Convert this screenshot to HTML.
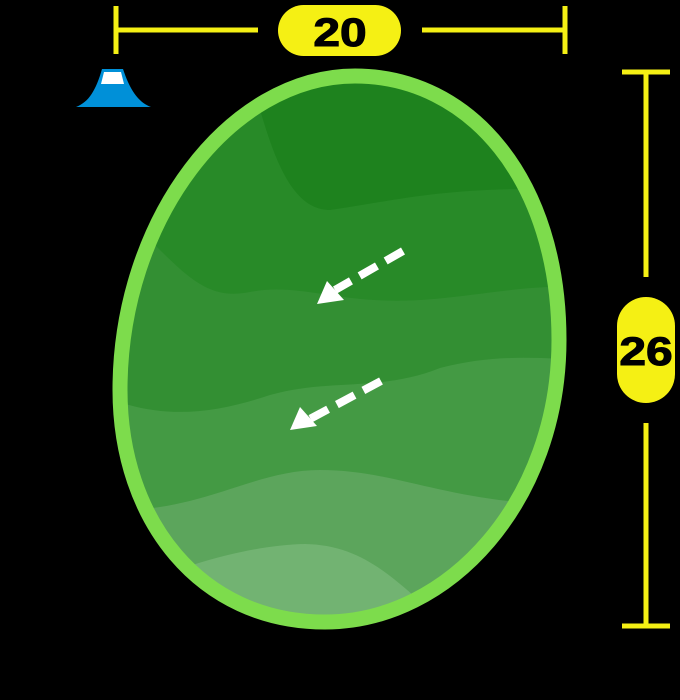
<!DOCTYPE html>
<html><head><style>html,body{margin:0;padding:0;background:#000;}svg{display:block}</style></head>
<body>
<svg width="680" height="700" viewBox="0 0 680 700" xmlns="http://www.w3.org/2000/svg">
<rect width="680" height="700" fill="#000"/>
<defs>
<clipPath id="c"><path d="M355,76 C470,76 559,180 559,340 C559,500 450,622 325,622 C200,622 120,520 120,390 C120,220 230,76 355,76 Z"/></clipPath>
</defs>
<g clip-path="url(#c)">
<rect x="100" y="60" width="480" height="580" fill="#1e821e"/>
<path d="M100,60 L245,60 C265,120 280,210 330,210 C400,200 450,185 580,190 L580,640 L100,640 Z" fill="#288a28"/>
<path d="M100,220 L150,240 C190,280 210,300 250,292 C300,282 340,305 420,300 C480,296 520,285 580,287 L580,640 L100,640 Z" fill="#338f33"/>
<path d="M100,395 C160,420 210,415 270,395 C330,378 380,392 440,368 C490,355 530,357 580,360 L580,640 L100,640 Z" fill="#449a44"/>
<path d="M100,510 C200,515 250,470 320,470 C400,470 450,505 580,505 L580,640 L100,640 Z" fill="#5ca55c"/>
<path d="M100,600 C180,565 250,545 305,544 C360,545 390,575 430,610 L430,640 L100,640 Z" fill="#72b372"/>
</g>
<path d="M355,76 C470,76 559,180 559,340 C559,500 450,622 325,622 C200,622 120,520 120,390 C120,220 230,76 355,76 Z" fill="none" stroke="#7ddc4c" stroke-width="15"/>
<g stroke="#fff" stroke-width="8" fill="none" stroke-dasharray="20,10">
<line x1="403" y1="251" x2="335" y2="290"/>
<line x1="381" y1="381" x2="308" y2="420"/>
</g>
<polygon points="317,304 327,281 344,300" fill="#fff"/>
<polygon points="290,430 300,407 317,426" fill="#fff"/>
<g stroke="#f5f014" stroke-width="5">
<line x1="116" y1="30" x2="258" y2="30"/>
<line x1="422" y1="30" x2="565" y2="30"/>
<line x1="116" y1="6" x2="116" y2="54"/>
<line x1="565" y1="6" x2="565" y2="54"/>
<line x1="646" y1="72" x2="646" y2="277"/>
<line x1="646" y1="423" x2="646" y2="626"/>
<line x1="622" y1="72" x2="670" y2="72"/>
<line x1="622" y1="626" x2="670" y2="626"/>
</g>
<rect x="278" y="5" width="123" height="51" rx="25.5" fill="#f5f014"/>
<rect x="617" y="297" width="58" height="106" rx="29" fill="#f5f014"/>
<text transform="translate(340,46) scale(1.2,1)" text-anchor="middle" font-family="Liberation Sans, sans-serif" font-weight="bold" font-size="40" fill="#000" stroke="#000" stroke-width="1">20</text>
<text transform="translate(646,365) scale(1.2,1)" text-anchor="middle" font-family="Liberation Sans, sans-serif" font-weight="bold" font-size="40" fill="#000" stroke="#000" stroke-width="1">26</text>
<path d="M102,69 L123,69 C130,90 138,102 151,107 L76,107 C89,102 96,90 102,69 Z" fill="#0090d8"/>
<polygon points="104,72 121,72 124,84 101,84" fill="#fff"/>
</svg>
</body></html>
